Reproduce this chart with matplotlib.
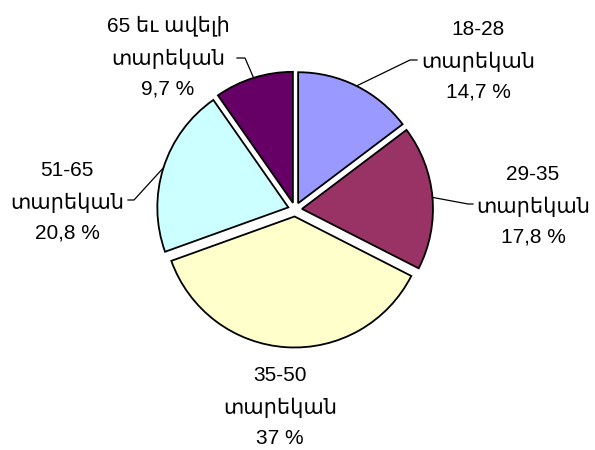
import numpy as np
import matplotlib
matplotlib.use("Agg")
from matplotlib import pyplot as plt

plt.rcParams['font.family'] = ['Liberation Sans', 'DejaVu Sans']

# age groups and shares (%)
groups = ['18-28', '29-35', '35-50', '51-65', '65 եւ ավելի']
shares = [14.7, 17.8, 37.0, 20.8, 9.7]
share_text = ['14,7 %', '17,8 %', '37 %', '20,8 %', '9,7 %']
suffix = 'տարեկան'
colors = ['#9999FF', '#993366', '#FFFFCC', '#CCFFFF', '#660066']

W, H = 595, 450
# label block centres in pixels (y from top)
label_pos = [(478, 61), (533, 206), (280, 407), (67, 202), (168, 57)]
# leader lines: text-side end, elbow (None = no leader)
leaders = [((417, 60), (410, 60)),
           ((473, 204), (468, 204)),
           None,
           ((128, 200), (134, 200)),
           ((237, 58), (245, 58))]

center = (295, H - 209.5)
radius = 131
explode_px = 7   # pie() offsets slices in data units

fig = plt.figure(figsize=(W / 100, H / 100), dpi=100)
ax = fig.add_axes([0, 0, 1, 1])

wedges, _ = ax.pie(shares, colors=colors, startangle=90, counterclock=False,
                   center=center, radius=radius,
                   explode=[explode_px] * len(shares),
                   wedgeprops=dict(edgecolor='black', linewidth=1.3))

# pie() resets the limits, so set them afterwards
ax.set_xlim(0, W)
ax.set_ylim(0, H)
ax.set_aspect('equal')
ax.axis('off')

for i, w in enumerate(wedges):
    lx, ly = label_pos[i]
    txt = groups[i] + '\n' + suffix + '\n' + share_text[i]
    ax.text(lx, H - ly, txt, ha='center', va='center', fontsize=15,
            linespacing=1.75)
    if leaders[i] is None:
        continue
    mid = np.deg2rad((w.theta1 + w.theta2) / 2)
    cx, cy = w.center
    px = cx + w.r * np.cos(mid)
    py = cy + w.r * np.sin(mid)
    (tx, ty), (ex, ey) = leaders[i]
    ax.plot([tx, ex, px], [H - ty, H - ey, py], color='black', lw=0.9)

fig.savefig('out.png', dpi=100)
